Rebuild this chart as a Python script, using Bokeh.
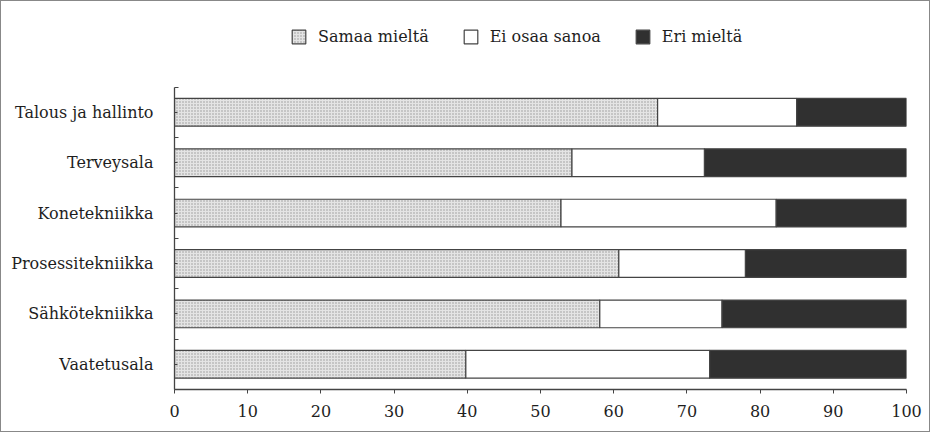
from bokeh.plotting import figure
from bokeh.models import Range1d, FixedTicker, Legend, LegendItem, ColumnDataSource
from bokeh.embed import file_html
from bokeh.resources import INLINE

categories = ["Talous ja hallinto", "Terveysala", "Konetekniikka",
              "Prosessitekniikka", "Sähkötekniikka", "Vaatetusala"]
samaa = [66, 54.3, 52.8, 60.7, 58.1, 39.8]
ei_osaa = [19, 18.1, 29.4, 17.3, 16.7, 33.3]
eri = [15, 27.6, 17.8, 22.0, 25.2, 26.9]
series_labels = ["Samaa mieltä", "Ei osaa sanoa", "Eri mieltä"]
x_ticks = [0, 10, 20, 30, 40, 50, 60, 70, 80, 90, 100]

n = len(categories)
ypos = [n - i - 0.5 for i in range(n)]
source = ColumnDataSource(dict(y=ypos, samaa=samaa, ei=ei_osaa, eri=eri))

FONT = "DejaVu Serif"
INK = "#1e1e1e"

# frame spans 0..7.54 vertically so the legend sits above the 0..6 category band
p = figure(width=930, height=432, output_backend="svg", toolbar_location=None,
           x_range=Range1d(0, 100), y_range=Range1d(0, 7.54),
           min_border_left=173, min_border_right=25, min_border_top=8,
           min_border_bottom=44)
p.outline_line_color = None
p.xgrid.grid_line_color = None
p.ygrid.grid_line_color = None
p.background_fill_color = "white"
p.styles = {"border": "1px solid #888888"}

rs = p.hbar_stack(["samaa", "ei", "eri"], y="y", height=0.55, source=source,
                  fill_color=["#e4e4e4", "white", "#303030"],
                  hatch_pattern=[".", " ", " "],
                  hatch_color=["#959595", "white", "#303030"],
                  hatch_scale=[3, 3, 3], hatch_weight=[1, 1, 1],
                  line_color="#444444", line_width=1.2)

legend = Legend(items=[LegendItem(label=lab, renderers=[r]) for lab, r in zip(series_labels, rs)],
                orientation="horizontal", location=(116, 343),
                border_line_color=None, background_fill_alpha=0,
                glyph_width=17, glyph_height=17, label_standoff=11, spacing=33,
                padding=0, margin=0, label_height=17,
                label_text_font=FONT, label_text_font_size="16px",
                label_text_color=INK)
p.add_layout(legend)

xa = p.xaxis[0]
xa.ticker = FixedTicker(ticks=x_ticks)
xa.major_tick_in = 0
xa.major_tick_out = 4
xa.minor_tick_line_color = None
xa.major_label_standoff = 11
xa.major_label_text_font = FONT
xa.major_label_text_font_size = "16px"
xa.major_label_text_color = INK
xa.axis_line_color = "#444444"
xa.axis_line_width = 1.3
xa.major_tick_line_color = "#444444"

ya = p.yaxis[0]
ya.bounds = (0, n)
ya.ticker = FixedTicker(ticks=ypos, minor_ticks=[float(i) for i in range(n + 1)])
ya.major_label_overrides = {yv: c for yv, c in zip(ypos, categories)}
ya.major_tick_in = 3
ya.major_tick_out = 0
ya.minor_tick_in = 4
ya.minor_tick_out = 0
ya.major_label_standoff = 21
ya.major_label_text_font = FONT
ya.major_label_text_font_size = "16px"
ya.major_label_text_color = INK
ya.axis_line_color = "#444444"
ya.axis_line_width = 1.3
ya.major_tick_line_color = "#444444"
ya.minor_tick_line_color = "#444444"

open("out.html", "w").write(file_html(p, INLINE))
